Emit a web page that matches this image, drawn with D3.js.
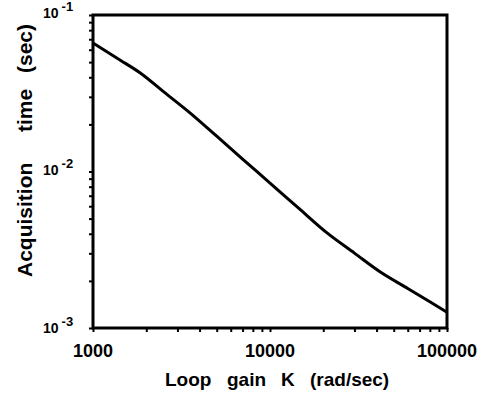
<!DOCTYPE html>
<html>
<head>
<meta charset="utf-8">
<script src="https://cdn.jsdelivr.net/npm/d3@7"></script>
<style>
  body { margin: 0; background: #fff; }
  text { font-family: "Liberation Sans", Arial, sans-serif; font-weight: bold; fill: #000; }
</style>
</head>
<body>
<svg></svg>
<script>
const width = 483;
const height = 396;

// values
const gainK = [1000, 1420, 1850, 2500, 3530, 5000, 7000, 10000, 15000, 21000, 30000, 42000, 60000, 80000, 100000];
const acqTime = [0.0662, 0.0516, 0.0426, 0.0324, 0.0237, 0.0168, 0.0120, 0.00844, 0.00564, 0.00405, 0.00301, 0.00228, 0.00179, 0.00147, 0.00126];
const xTickValues = [1000, 10000, 100000];
const xTickLabels = ["1000", "10000", "100000"];
const yTickValues = [1e-1, 1e-2, 1e-3];
const yTickExp = ["-1", "-2", "-3"];
const xTitleWords = ["Loop", "gain", "K", "(rad/sec)"];
const yTitleWords = ["Acquisition", "time", "(sec)"];

const data = gainK.map((k, i) => ({k: k, t: acqTime[i]}));

const plotLeft = 93, plotRight = 447, plotTop = 15, plotBottom = 328;

const xScale = d3.scaleLog()
                 .domain([1000, 100000])
                 .range([plotLeft, plotRight]);

const yScale = d3.scaleLog()
                 .domain([1e-3, 1e-1])
                 .range([plotBottom, plotTop]);

const svg = d3.select("svg")
              .attr("width", width)
              .attr("height", height);

// minor ticks, outward
const xAxis = d3.axisBottom(xScale)
                .tickValues(xScale.ticks())
                .tickSize(4)
                .tickSizeOuter(0)
                .tickFormat("");
const yAxis = d3.axisLeft(yScale)
                .tickValues(yScale.ticks())
                .tickSize(4)
                .tickSizeOuter(0)
                .tickFormat("");

svg.append("g")
   .attr("transform", `translate(0, ${plotBottom})`)
   .call(xAxis)
   .call(g => g.select(".domain").remove())
   .selectAll("line").attr("stroke", "#000").attr("stroke-width", 2);

svg.append("g")
   .attr("transform", `translate(${plotLeft}, 0)`)
   .call(yAxis)
   .call(g => g.select(".domain").remove())
   .selectAll("line").attr("stroke", "#000").attr("stroke-width", 2);

// frame
svg.append("rect")
   .attr("x", plotLeft)
   .attr("y", plotTop)
   .attr("width", plotRight - plotLeft)
   .attr("height", plotBottom - plotTop)
   .attr("fill", "none")
   .attr("stroke", "#000")
   .attr("stroke-width", 3);

// curve
const line = d3.line()
               .x(d => xScale(d.k))
               .y(d => yScale(d.t))
               .curve(d3.curveMonotoneX);

svg.append("path")
   .datum(data)
   .attr("d", line)
   .attr("fill", "none")
   .attr("stroke", "#000")
   .attr("stroke-width", 3)
   .attr("stroke-linejoin", "round");

// x tick labels
svg.selectAll(".xlab")
   .data(xTickValues)
   .enter()
   .append("text")
   .attr("class", "xlab")
   .attr("x", d => xScale(d))
   .attr("y", 357)
   .style("text-anchor", "middle")
   .style("font-size", "18px")
   .text((d, i) => xTickLabels[i]);

// y tick labels: 10 with exponent
const ylab = svg.selectAll(".ylab")
   .data(yTickValues)
   .enter()
   .append("text")
   .attr("class", "ylab")
   .attr("x", 43)
   .attr("y", (d, i) => yScale(d) + (i === 2 ? 5 : 3))
   .style("font-size", "14px");
ylab.append("tspan").text("10");
ylab.append("tspan")
    .attr("dx", 3)
    .attr("dy", -7)
    .style("font-size", "13px")
    .text((d, i) => yTickExp[i]);

// axis titles, words spread like the original
const xWordPos = [165, 227, 281, 310];
svg.append("text")
   .attr("y", 386)
   .style("font-size", "19px")
   .selectAll("tspan")
   .data(xTitleWords)
   .enter()
   .append("tspan")
   .attr("x", (d, i) => xWordPos[i])
   .text(d => d);

const yWordPos = [0, 145, 204];
svg.append("text")
   .attr("transform", "translate(32, 277) rotate(-90)")
   .style("font-size", "21px")
   .selectAll("tspan")
   .data(yTitleWords)
   .enter()
   .append("tspan")
   .attr("x", (d, i) => yWordPos[i])
   .attr("y", 0)
   .text(d => d);
</script>
</body>
</html>
